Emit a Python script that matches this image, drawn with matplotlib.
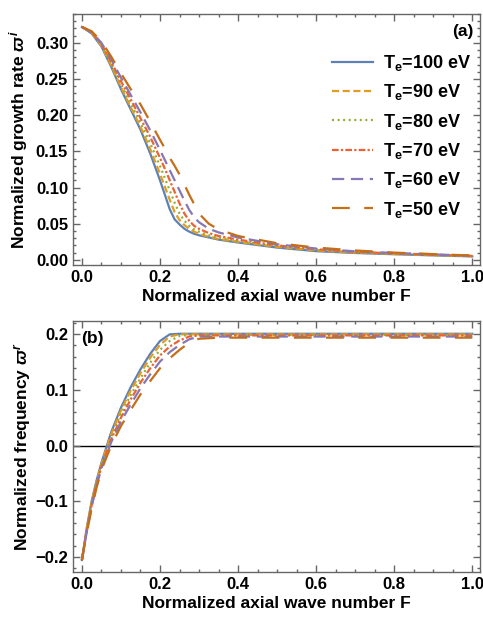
import matplotlib.pyplot as plt
from matplotlib.ticker import MultipleLocator

plt.rcParams['font.family'] = ['Liberation Sans', 'DejaVu Sans']
plt.rcParams['font.weight'] = 'bold'
plt.rcParams['mathtext.fontset'] = 'custom'
plt.rcParams['mathtext.rm'] = 'Liberation Sans:bold'
plt.rcParams['mathtext.bf'] = 'Liberation Sans:bold'
plt.rcParams['mathtext.it'] = 'Liberation Sans:bold:italic'
plt.rcParams['mathtext.fallback'] = 'stixsans'

# Electron temperatures (eV)
temps = [100, 90, 80, 70, 60, 50]

# (a) normalized growth rate vs normalized axial wave number F
F_growth = [0, 0.025, 0.05, 0.075, 0.1, 0.125, 0.15, 0.175, 0.2, 0.2125, 0.225, 0.2375, 0.25,
            0.2625, 0.275, 0.2875, 0.3, 0.325, 0.35, 0.4, 0.5, 0.6, 0.7, 0.8, 0.9, 1.0]
growth_100 = [0.322, 0.313, 0.295, 0.267, 0.236, 0.208, 0.180, 0.147, 0.110, 0.090, 0.070, 0.056, 0.049,
              0.043, 0.039, 0.036, 0.034, 0.031, 0.028, 0.024, 0.017, 0.012, 0.0095, 0.0078, 0.0062, 0.0048]
growth_90 = [0.322, 0.314, 0.296, 0.269, 0.239, 0.211, 0.184, 0.153, 0.119, 0.101, 0.083, 0.066, 0.055,
             0.048, 0.043, 0.039, 0.036, 0.032, 0.029, 0.025, 0.018, 0.013, 0.0100, 0.0082, 0.0065, 0.0051]
growth_80 = [0.322, 0.314, 0.297, 0.271, 0.243, 0.216, 0.190, 0.161, 0.130, 0.113, 0.096, 0.079, 0.064,
             0.054, 0.047, 0.042, 0.039, 0.034, 0.031, 0.026, 0.019, 0.0138, 0.0105, 0.0086, 0.0069, 0.0053]
growth_70 = [0.322, 0.315, 0.298, 0.274, 0.247, 0.222, 0.196, 0.170, 0.141, 0.126, 0.110, 0.094, 0.078,
             0.064, 0.054, 0.047, 0.043, 0.037, 0.033, 0.028, 0.020, 0.0147, 0.0110, 0.0090, 0.0072, 0.0055]
growth_60 = [0.322, 0.315, 0.300, 0.277, 0.252, 0.228, 0.204, 0.179, 0.152, 0.138, 0.124, 0.110, 0.096,
             0.082, 0.069, 0.059, 0.052, 0.043, 0.038, 0.031, 0.0215, 0.0157, 0.0118, 0.0095, 0.0076, 0.0058]
growth_50 = [0.322, 0.316, 0.302, 0.281, 0.258, 0.236, 0.215, 0.191, 0.166, 0.154, 0.141, 0.130, 0.118,
             0.104, 0.090, 0.077, 0.064, 0.050, 0.042, 0.033, 0.023, 0.017, 0.013, 0.010, 0.008, 0.006]

# (b) normalized real frequency vs F
F_freq = [0, 0.0125, 0.025, 0.0375, 0.05, 0.075, 0.1, 0.125, 0.15, 0.175, 0.2, 0.225, 0.25,
          0.275, 0.3, 0.35, 0.4, 0.5, 0.6, 0.7, 0.8, 0.9, 1.0]
freq_100 = [-0.206, -0.148, -0.100, -0.063, -0.031, 0.024, 0.068, 0.105, 0.137, 0.165, 0.188, 0.200,
            0.201, 0.201, 0.201, 0.201, 0.201, 0.201, 0.201, 0.201, 0.201, 0.201, 0.201]
freq_90 = [-0.206, -0.149, -0.102, -0.065, -0.033, 0.020, 0.063, 0.099, 0.130, 0.158, 0.181, 0.196,
           0.200, 0.200, 0.200, 0.200, 0.200, 0.200, 0.200, 0.200, 0.200, 0.200, 0.200]
freq_80 = [-0.206, -0.151, -0.104, -0.067, -0.035, 0.016, 0.057, 0.091, 0.121, 0.149, 0.172, 0.188,
           0.197, 0.199, 0.199, 0.199, 0.199, 0.199, 0.199, 0.199, 0.199, 0.199, 0.199]
freq_70 = [-0.206, -0.153, -0.107, -0.070, -0.038, 0.011, 0.050, 0.083, 0.113, 0.139, 0.162, 0.178,
           0.189, 0.196, 0.198, 0.198, 0.198, 0.198, 0.198, 0.198, 0.198, 0.198, 0.198]
freq_60 = [-0.206, -0.155, -0.110, -0.073, -0.041, 0.006, 0.043, 0.074, 0.103, 0.128, 0.151, 0.168,
           0.181, 0.191, 0.196, 0.196, 0.196, 0.196, 0.196, 0.196, 0.196, 0.196, 0.196]
freq_50 = [-0.206, -0.157, -0.113, -0.076, -0.044, 0.000, 0.035, 0.064, 0.092, 0.116, 0.139, 0.157,
           0.172, 0.185, 0.192, 0.194, 0.194, 0.194, 0.194, 0.194, 0.194, 0.194, 0.194]

growth = [growth_100, growth_90, growth_80, growth_70, growth_60, growth_50]
freq = [freq_100, freq_90, freq_80, freq_70, freq_60, freq_50]

# Mathematica-like default colours and dash styles
colors = ['#5E81B5', '#E19C24', '#8FB032', '#EB6235', '#8778B3', '#C56E1A']
dashes = [None, (3.2, 1.6), (0.9, 1.6), (3.0, 1.0, 1.0, 1.0), (5.5, 3.0), (8.0, 6.5)]
lw = 1.6

fig = plt.figure(figsize=(4.83, 6.19), dpi=100)
ax1 = fig.add_axes([0.151, 0.572, 0.843, 0.4055])
ax2 = fig.add_axes([0.151, 0.0764, 0.843, 0.4055])

for i in range(len(temps)):
    kw = dict(color=colors[i], lw=lw, label=r'T$_{\mathrm{e}}$=%d eV' % temps[i])
    l1, = ax1.plot(F_growth, growth[i], **kw)
    l2, = ax2.plot(F_freq, freq[i], **kw)
    if dashes[i] is not None:
        l1.set_dashes(dashes[i])
        l2.set_dashes(dashes[i])

ax2.axhline(0, color='black', lw=1.0, zorder=0.5)

fs_tick = 12
fs_lab = 12.5
for ax in (ax1, ax2):
    ax.set_xlim(-0.023, 1.02)
    ax.xaxis.set_major_locator(MultipleLocator(0.2))
    ax.xaxis.set_minor_locator(MultipleLocator(0.05))
    ax.tick_params(which='both', direction='in', top=True, right=True, color='#666666',
                   labelsize=fs_tick, width=1.0)
    ax.tick_params(which='major', length=5)
    ax.tick_params(which='minor', length=2.5)
    for s in ax.spines.values():
        s.set_color('#666666')
        s.set_linewidth(1.0)
    ax.set_xlabel('Normalized axial wave number F', fontsize=fs_lab, fontweight='bold', labelpad=3)

ax1.set_ylim(-0.007, 0.34)
ax1.yaxis.set_major_locator(MultipleLocator(0.05))
ax1.yaxis.set_minor_locator(MultipleLocator(0.01))
ax1.set_ylabel(r'Normalized growth rate $\varpi^{i}$', fontsize=fs_lab, fontweight='bold', labelpad=4)

ax2.set_ylim(-0.227, 0.2245)
ax2.yaxis.set_major_locator(MultipleLocator(0.1))
ax2.yaxis.set_minor_locator(MultipleLocator(0.02))
ax2.set_ylabel(r'Normalized frequency $\varpi^{r}$', fontsize=fs_lab, fontweight='bold', labelpad=2)
ax2.set_yticks([-0.2, -0.1, 0.0, 0.1, 0.2])
ax2.set_yticklabels(['\u22120.2', '\u22120.1', '0.0', '0.1', '0.2'])

ax1.text(0.985, 0.96, '(a)', transform=ax1.transAxes, ha='right', va='top', fontsize=12.5,
         fontweight='bold')
ax2.text(0.02, 0.96, '(b)', transform=ax2.transAxes, ha='left', va='top', fontsize=12.5,
         fontweight='bold')

ax1.legend(loc='upper left', bbox_to_anchor=(0.636, 0.845), frameon=False, fontsize=13,
           handlelength=2.27, handletextpad=0.55, labelspacing=0.52, borderpad=0, borderaxespad=0)

fig.savefig('out.png', dpi=100)
